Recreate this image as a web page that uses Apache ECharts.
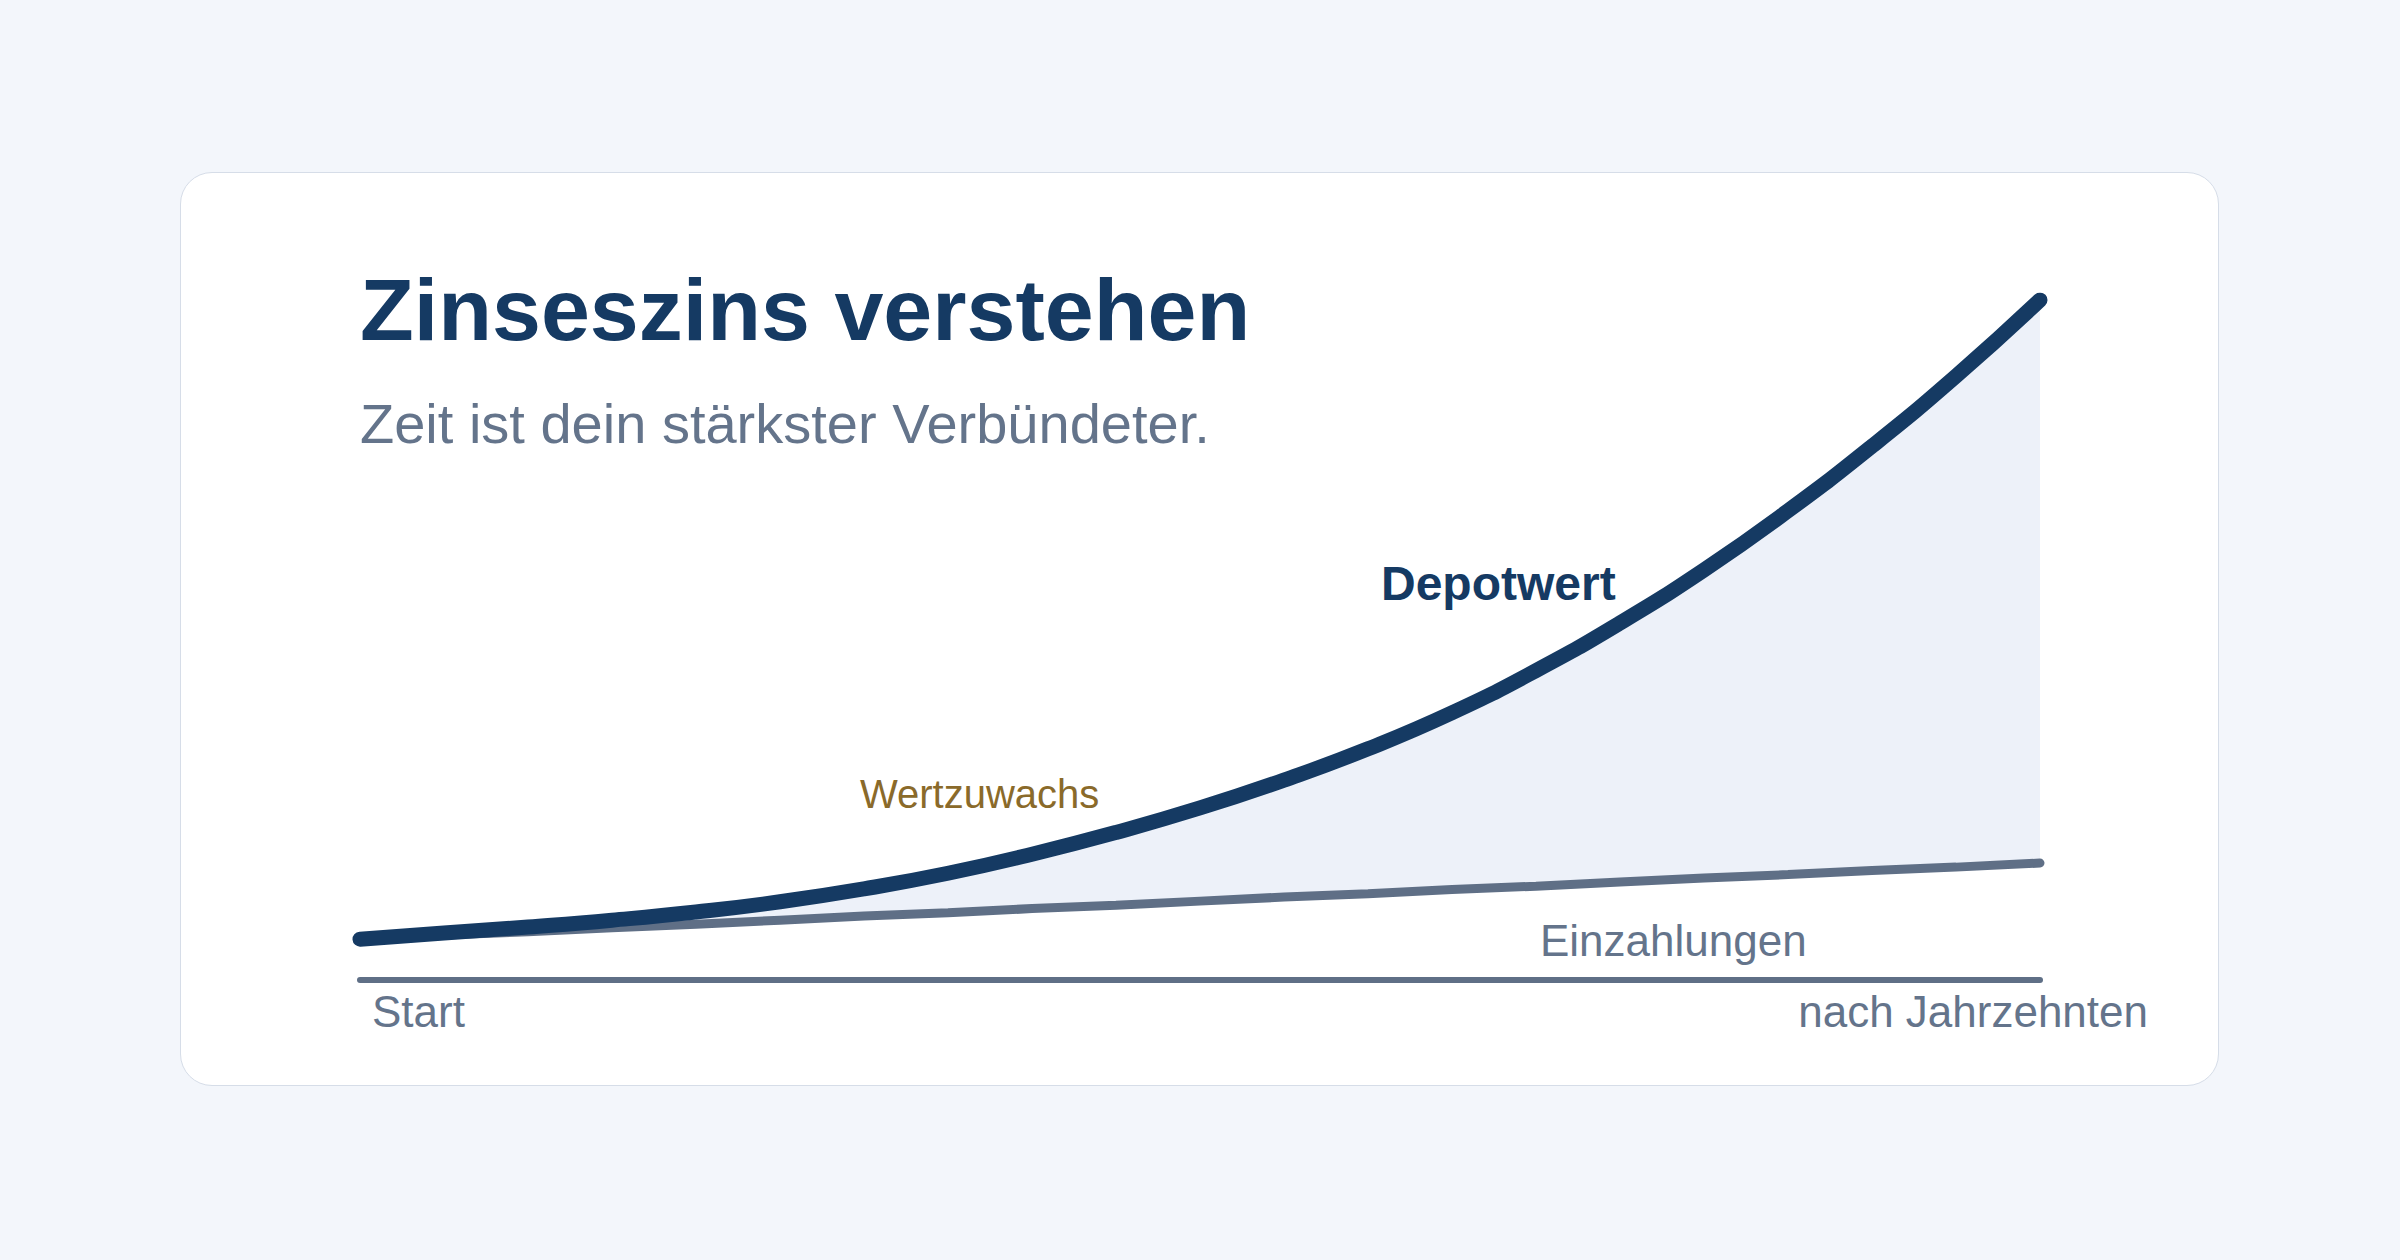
<!DOCTYPE html>
<html lang="de">
<head>
<meta charset="utf-8">
<title>Zinseszins verstehen</title>
<script src="https://cdn.jsdelivr.net/npm/echarts@6/dist/echarts.min.js"></script>
<style>
    html, body {
        margin: 0;
        padding: 0;
        background: #f3f6fb;
    }
    .card {
        position: absolute;
        left: 180px;
        top: 172px;
        width: 2037px;
        height: 912px;
        background: #ffffff;
        border: 1.5px solid #d6dde8;
        border-radius: 32px;
    }
    #chart {
        position: absolute;
        left: 0;
        top: 0;
        width: 2400px;
        height: 1260px;
    }
</style>
</head>
<body>
<div class="card"></div>
<div id="chart"></div>
<script>
    var years = ['0', '2', '4', '6', '8', '10', '12', '14', '16', '18', '20',
                 '22', '24', '26', '28', '30', '32', '34', '36', '38', '40']
    var depotwert = [6.0, 6.9, 7.8, 8.8, 10.0, 11.5, 13.4, 15.7, 18.5, 21.7, 25.3,
                     29.4, 34.0, 39.3, 45.5, 52.5, 60.3, 69.0, 78.5, 88.8, 100]
    var einzahlungen = [6.0, 6.6, 7.1, 7.7, 8.2, 8.8, 9.4, 9.9, 10.5, 11.0, 11.6,
                        12.2, 12.7, 13.3, 13.8, 14.4, 15.0, 15.5, 16.1, 16.6, 17.2]
    var axisLabels = ['Start', 'nach Jahrzehnten']

    var navy = '#153a63'
    var slate = '#5f6f86'
    var font = '"Liberation Sans", Arial, Helvetica, sans-serif'

    // Wertzuwachs = Abstand zwischen Depotwert und Einzahlungen (fuer die Flaeche)
    var zuwachs = depotwert.map(function (v, i) {
        return Math.max(0, +(v - einzahlungen[i]).toFixed(2))
    })

    function label(text, x, baseline, size, color, weight, align) {
        return {
            type: 'text',
            x: x,
            y: baseline - size * 0.3465,
            z: 10,
            silent: true,
            style: {
                text: text,
                fill: color,
                font: (weight || 'normal') + ' ' + size + 'px ' + font,
                textAlign: align || 'left',
                textVerticalAlign: 'middle'
            }
        }
    }

    var chart = echarts.init(document.getElementById('chart'), null, {renderer: 'svg'})
    chart.setOption({
        animation: false,
        backgroundColor: 'transparent',
        grid: {left: 360, right: 360, top: 300, bottom: 280},
        xAxis: {
            type: 'category',
            boundaryGap: false,
            data: years,
            axisLine: {show: true, lineStyle: {color: slate, width: 6}},
            axisTick: {show: false},
            axisLabel: {show: false},
            splitLine: {show: false}
        },
        yAxis: {
            type: 'value',
            min: 0,
            max: 100,
            show: false
        },
        series: [
            {
                name: 'basis',
                type: 'line',
                stack: 'w',
                data: einzahlungen,
                symbol: 'none',
                silent: true,
                lineStyle: {width: 0, opacity: 0}
            },
            {
                name: 'Wertzuwachs',
                type: 'line',
                stack: 'w',
                data: zuwachs,
                smooth: true,
                symbol: 'none',
                silent: true,
                lineStyle: {width: 0, opacity: 0},
                areaStyle: {color: '#edf1f9', opacity: 1}
            },
            {
                name: 'Einzahlungen',
                type: 'line',
                data: einzahlungen,
                symbol: 'none',
                silent: true,
                z: 3,
                lineStyle: {color: slate, width: 9, cap: 'round'}
            },
            {
                name: 'Depotwert',
                type: 'line',
                data: depotwert,
                smooth: true,
                symbol: 'none',
                silent: true,
                z: 4,
                lineStyle: {color: navy, width: 15, cap: 'round', join: 'round'}
            }
        ],
        graphic: [
            label('Zinseszins verstehen', 360, 340, 88, navy, 'bold'),
            label('Zeit ist dein stärkster Verbündeter.', 360, 443, 56, '#64748b'),
            label('Depotwert', 1381, 600, 48, navy, 'bold'),
            label('Wertzuwachs', 860, 808, 40, '#8a6a2a'),
            label('Einzahlungen', 1540, 956, 44, '#64748b'),
            label(axisLabels[0], 372, 1027, 44, '#64748b'),
            label(axisLabels[1], 2148, 1027, 44, '#64748b', 'normal', 'right')
        ]
    })
</script>
</body>
</html>
